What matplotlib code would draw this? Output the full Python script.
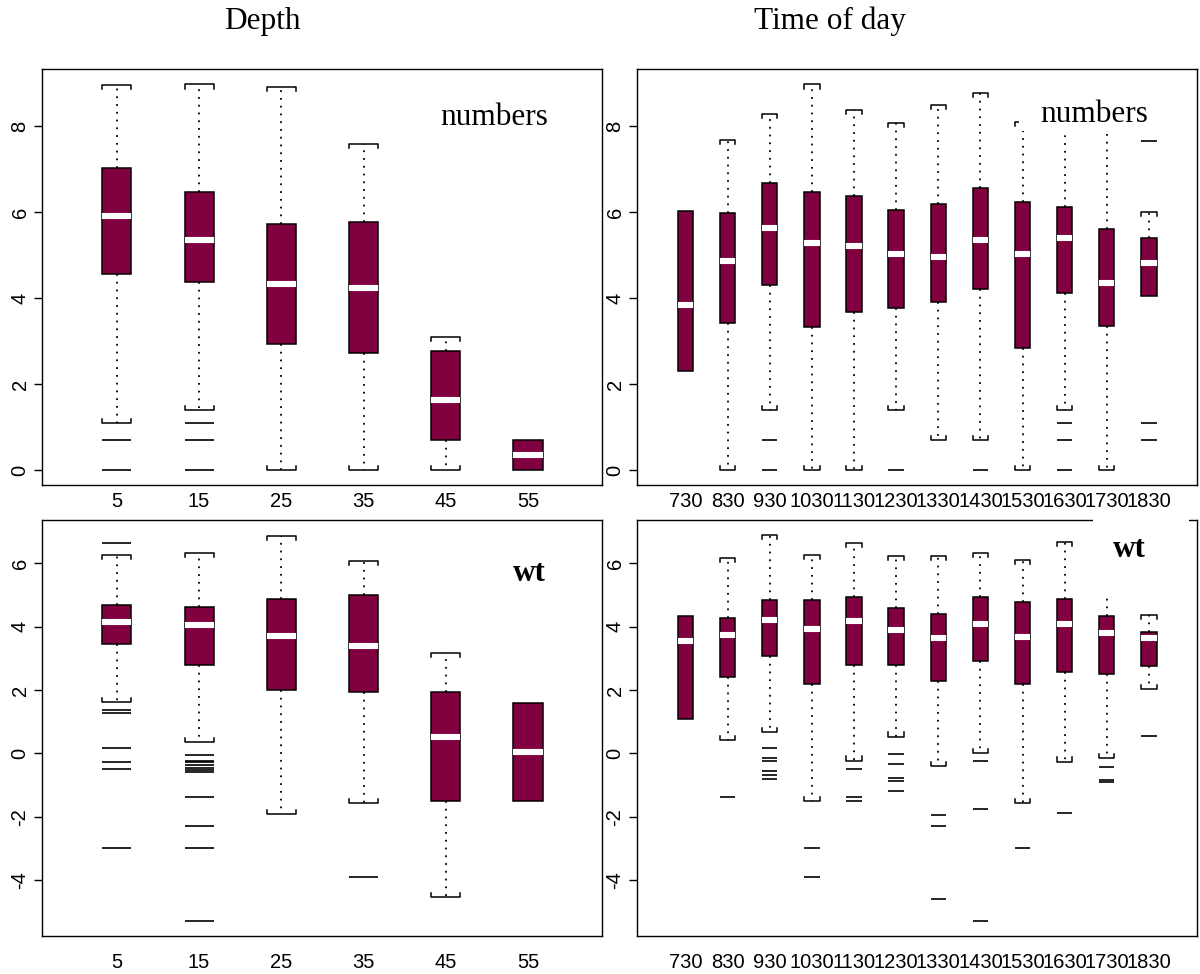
import numpy as np
import matplotlib.pyplot as plt
from matplotlib.patches import Rectangle

# --- data (log scale values) ---
depth_labels = ['5', '15', '25', '35', '45', '55']
time_labels = ['730', '830', '930', '1030', '1130', '1230',
               '1330', '1430', '1530', '1630', '1730', '1830']

# numbers ~ depth
num_depth_q1 = [4.57, 4.37, 2.94, 2.71, 0.69, 0.0]
num_depth_med = [5.92, 5.35, 4.33, 4.23, 1.62, 0.35]
num_depth_q3 = [7.02, 6.46, 5.73, 5.76, 2.77, 0.69]
num_depth_lo = [1.10, 1.39, 0.0, 0.0, 0.0, 0.0]
num_depth_hi = [8.96, 8.97, 8.91, 7.58, 3.09, 0.69]
num_depth_out = [[0.69, 0.0], [1.10, 0.69, 0.0], [], [], [], []]

# numbers ~ time of day
num_time_q1 = [2.30, 3.43, 4.30, 3.32, 3.68, 3.77, 3.91, 4.22, 2.84, 4.12, 3.35, 4.05]
num_time_med = [3.85, 4.87, 5.64, 5.27, 5.21, 5.02, 4.96, 5.36, 5.02, 5.40, 4.34, 4.82]
num_time_q3 = [6.02, 5.98, 6.68, 6.46, 6.37, 6.05, 6.19, 6.57, 6.23, 6.12, 5.60, 5.40]
num_time_lo = [2.30, 0.0, 1.39, 0.0, 0.0, 1.39, 0.69, 0.69, 0.0, 1.39, 0.0, 4.05]
num_time_hi = [6.02, 7.68, 8.28, 8.97, 8.37, 8.07, 8.50, 8.77, 8.09, 8.60, 8.40, 6.00]
num_time_out = [[], [], [0.69, 0.0], [], [], [0.0], [], [0.0], [],
                [1.10, 0.69, 0.0], [], [7.65, 1.10, 0.69]]

# wt ~ depth
wt_depth_q1 = [3.45, 2.79, 1.99, 1.94, -1.51, -1.51]
wt_depth_med = [4.14, 4.04, 3.70, 3.38, 0.51, 0.05]
wt_depth_q3 = [4.70, 4.61, 4.86, 4.99, 1.95, 1.60]
wt_depth_lo = [1.61, 0.35, -1.92, -1.58, -4.55, -1.51]
wt_depth_hi = [6.27, 6.32, 6.88, 6.07, 3.16, 1.60]
wt_depth_out = [[6.64, 1.38, 1.27, 0.18, -0.28, -0.50, -2.99],
                [-0.04, -0.23, -0.27, -0.37, -0.45, -0.54, -0.60, -1.38, -2.30, -2.99, -5.29],
                [], [-3.91], [], []]

# wt ~ time of day
wt_time_q1 = [1.09, 2.40, 3.08, 2.20, 2.79, 2.78, 2.30, 2.92, 2.20, 2.57, 2.50, 2.76]
wt_time_med = [3.55, 3.74, 4.21, 3.94, 4.19, 3.91, 3.64, 4.07, 3.69, 4.07, 3.80, 3.65]
wt_time_q3 = [4.34, 4.29, 4.85, 4.83, 4.95, 4.60, 4.40, 4.95, 4.78, 4.88, 4.34, 3.82]
wt_time_lo = [1.09, 0.42, 0.66, -1.51, -0.23, 0.53, -0.40, 0.01, -1.58, -0.26, -0.16, 2.03]
wt_time_hi = [4.34, 6.18, 6.89, 6.28, 6.64, 6.23, 6.23, 6.32, 6.12, 6.68, 6.30, 4.36]
wt_time_out = [[], [-1.37], [0.18, -0.16, -0.23, -0.57, -0.69, -0.80], [-2.99, -3.91],
               [-0.51, -1.37, -1.50], [-0.01, -0.35, -0.79, -0.87, -1.19],
               [-1.96, -2.29, -4.59], [-0.25, -1.76, -5.29], [-2.99], [-1.89],
               [-0.43, -0.84, -0.91], [0.56]]

MAROON = '#800040'
SANS = 'Liberation Sans'
SERIF = 'Liberation Serif'


def draw_panel(ax, labels, q1, med, q3, lo, hi, out, width, xlim, ylim, yticks, lab_pad):
    pos = np.arange(1, len(labels) + 1)
    stats = [dict(med=m, q1=a, q3=b, whislo=l, whishi=h, fliers=[])
             for a, m, b, l, h in zip(q1, med, q3, lo, hi)]
    ax.bxp(stats, positions=pos, widths=width, patch_artist=True,
           showcaps=False, showfliers=False,
           boxprops=dict(facecolor=MAROON, edgecolor='black', linewidth=1.1),
           medianprops=dict(color='white', linewidth=4.4, solid_capstyle='butt'),
           whiskerprops=dict(color='black', linewidth=1.3, linestyle=(0, (1, 3.3))))
    d = 0.01 * (ylim[1] - ylim[0])
    hw = width / 2
    for x, a, b, l, h, o in zip(pos, q1, q3, lo, hi, out):
        # R style staples, little bracket ends
        if h > b:
            ax.plot([x - hw, x - hw, x + hw, x + hw], [h - d, h, h, h - d],
                    color='black', lw=1.1, zorder=3)
        if l < a:
            ax.plot([x - hw, x - hw, x + hw, x + hw], [l + d, l, l, l + d],
                    color='black', lw=1.1, zorder=3)
        if o:
            ax.hlines(o, x - hw, x + hw, color='black', lw=1.2, zorder=3)
    ax.set_xlim(*xlim)
    ax.set_ylim(*ylim)
    ax.set_xticks(pos)
    ax.set_xticklabels(labels, fontsize=14.5, family=SANS)
    ax.set_yticks(yticks)
    ax.set_yticklabels([str(t) for t in yticks], fontsize=14.5, family=SANS,
                       rotation=90, va='center')
    ax.tick_params(axis='x', length=0, pad=lab_pad)
    ax.tick_params(axis='y', length=6, width=1.0, pad=3)
    for s in ax.spines.values():
        s.set_linewidth(1.0)
        s.set_color('black')


fig = plt.figure(figsize=(12, 9.74), dpi=100)
W, H = 1200, 974


def add_ax(left, top, right, bottom):
    return fig.add_axes([left / W, 1 - bottom / H, (right - left) / W, (bottom - top) / H])


ax1 = add_ax(42, 69, 602, 485)
ax2 = add_ax(637, 69, 1197, 485)
ax3 = add_ax(42, 520, 602, 936)
ax4 = add_ax(637, 520, 1197, 936)

top_ylim = (-0.35, 9.33)
bot_ylim = (-5.77, 7.37)

draw_panel(ax1, depth_labels, num_depth_q1, num_depth_med, num_depth_q3, num_depth_lo,
           num_depth_hi, num_depth_out, 0.353, (0.09, 6.90), top_ylim, [0, 2, 4, 6, 8], 5)
draw_panel(ax2, time_labels, num_time_q1, num_time_med, num_time_q3, num_time_lo,
           num_time_hi, num_time_out, 0.363, (-0.15, 13.14), top_ylim, [0, 2, 4, 6, 8], 5)
draw_panel(ax3, depth_labels, wt_depth_q1, wt_depth_med, wt_depth_q3, wt_depth_lo,
           wt_depth_hi, wt_depth_out, 0.353, (0.09, 6.90), bot_ylim, [-4, -2, 0, 2, 4, 6], 12)
draw_panel(ax4, time_labels, wt_time_q1, wt_time_med, wt_time_q3, wt_time_lo,
           wt_time_hi, wt_time_out, 0.363, (-0.15, 13.14), bot_ylim, [-4, -2, 0, 2, 4, 6], 12)

# legend-like white boxes behind the panel labels on the right
ax2.add_patch(Rectangle((0.682, 0.851), 0.304, 0.135, transform=ax2.transAxes,
                        facecolor='white', edgecolor='none', zorder=4, clip_on=False))
ax4.add_patch(Rectangle((0.814, 0.8125), 0.172, 0.206, transform=ax4.transAxes,
                        facecolor='white', edgecolor='none', zorder=4, clip_on=False))

ax1.text(0.807, 0.865, 'numbers', transform=ax1.transAxes, ha='center', va='baseline',
         fontsize=22.5, family=SERIF, zorder=5)
ax2.text(0.816, 0.873, 'numbers', transform=ax2.transAxes, ha='center', va='baseline',
         fontsize=22.5, family=SERIF, zorder=5)
ax3.text(0.870, 0.853, 'wt', transform=ax3.transAxes, ha='center', va='baseline',
         fontsize=22.5, family=SERIF, fontweight='bold', zorder=5)
ax4.text(0.879, 0.911, 'wt', transform=ax4.transAxes, ha='center', va='baseline',
         fontsize=22.5, family=SERIF, fontweight='bold', zorder=5)

fig.text(262 / W, 1 - 21 / H, 'Depth', ha='center', va='center', fontsize=22.5, family=SERIF)
fig.text(830 / W, 1 - 21 / H, 'Time of day', ha='center', va='center', fontsize=22.5, family=SERIF)

fig.savefig('out.png', dpi=100)
